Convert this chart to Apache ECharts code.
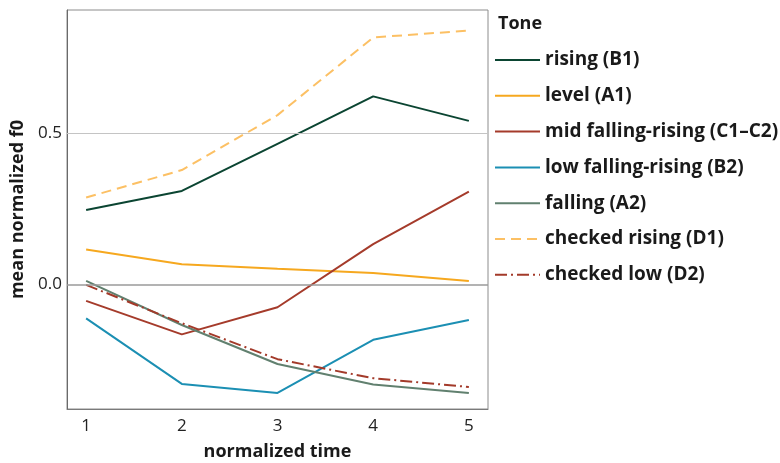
<!DOCTYPE html>
<html>
<head>
<meta charset="utf-8">
<script src="https://cdn.jsdelivr.net/npm/echarts@6/dist/echarts.min.js"></script>
<style>
  html, body { margin: 0; padding: 0; background: #fff; }
  #chart { width: 780px; height: 463px; }
</style>
</head>
<body>
<div id="chart"></div>
<script>
// normalized time points
const times = [1, 2, 3, 4, 5]
const xTicks = [1, 2, 3, 4, 5]
const yTicks = [0, 0.5]

// mean normalized f0 per tone
const risingB1 = [0.246, 0.309, 0.465, 0.622, 0.541]
const levelA1 = [0.115, 0.066, 0.051, 0.037, 0.011]
const midFallingRisingC1C2 = [-0.055, -0.166, -0.076, 0.133, 0.307]
const lowFallingRisingB2 = [-0.113, -0.33, -0.36, -0.184, -0.118]
const fallingA2 = [0.011, -0.135, -0.264, -0.332, -0.36]
const checkedRisingD1 = [0.287, 0.378, 0.56, 0.817, 0.84]
const checkedLowD2 = [-0.002, -0.129, -0.248, -0.311, -0.34]

const font = '"Open Sans", "Noto Sans", sans-serif'

const chart = echarts.init(document.getElementById('chart'), null, { renderer: 'canvas' })

const pairs = (vals) => times.map((t, i) => [t, vals[i]])

const makeSeries = (name, vals, color, type) => ({
  name,
  type: 'line',
  data: pairs(vals),
  symbol: 'none',
  smooth: false,
  lineStyle: { color, width: 2, type },
  itemStyle: { color },
  z: 3,
})

const series = [
  makeSeries('rising (B1)', risingB1, '#0b4532', 'solid'),
  makeSeries('level (A1)', levelA1, '#f6a81f', 'solid'),
  makeSeries('mid falling-rising (C1–C2)', midFallingRisingC1C2, '#a53b2b', 'solid'),
  makeSeries('low falling-rising (B2)', lowFallingRisingB2, '#1b8fb3', 'solid'),
  makeSeries('falling (A2)', fallingA2, '#61806f', 'solid'),
  makeSeries('checked rising (D1)', checkedRisingD1, '#fcc064', [10, 6]),
  makeSeries('checked low (D2)', checkedLowD2, '#a33a2a', [12, 4, 2, 4]),
]
const legendNames = series.map(s => s.name)

// reference lines at the y ticks, drawn under the data
series.push({
  type: 'line',
  data: [],
  silent: true,
  z: 1,
  markLine: {
    silent: true,
    symbol: 'none',
    label: { show: false },
    data: [
      { yAxis: yTicks[0], lineStyle: { color: '#9a9a9a', width: 1.5, type: 'solid' } },
      { yAxis: yTicks[1], lineStyle: { color: '#c4c4c4', width: 1, type: 'solid' } },
    ],
  },
})

chart.setOption({
  backgroundColor: '#fff',
  animation: false,
  title: {
    text: 'Tone',
    left: 493,
    top: 10,
    textStyle: { fontFamily: font, fontSize: 18, fontWeight: 'bold', color: '#1a1a1a' },
  },
  legend: {
    orient: 'vertical',
    left: 489,
    top: 45,
    itemWidth: 45,
    itemHeight: 20,
    itemGap: 15.8,
    itemStyle: { opacity: 0 },
    data: legendNames,
    textStyle: { fontFamily: font, fontSize: 19, lineHeight: 20, fontWeight: 'bold', color: '#1a1a1a' },
  },
  grid: {
    left: 67,
    right: 292,
    top: 10,
    bottom: 54,
    show: true,
    borderColor: '#8c8c8c',
    borderWidth: 1,
    containLabel: false,
    outerBoundsMode: 'none',
  },
  xAxis: {
    type: 'value',
    min: 0.8,
    max: 5.2,
    name: 'normalized time',
    nameLocation: 'middle',
    nameGap: 34,
    nameTextStyle: { fontFamily: font, fontSize: 18, fontWeight: 'bold', color: '#1a1a1a' },
    axisLine: { show: true, onZero: false, lineStyle: { color: '#7a7a7a' } },
    axisTick: { show: false, customValues: xTicks },
    splitLine: { show: false },
    axisLabel: {
      customValues: xTicks,
      margin: 9,
      fontFamily: font,
      fontSize: 17,
      color: '#222',
    },
  },
  yAxis: {
    type: 'value',
    min: -0.413,
    max: 0.908,
    name: 'mean normalized f0',
    nameLocation: 'middle',
    nameGap: 36,
    nameTextStyle: { fontFamily: font, fontSize: 18, fontWeight: 'bold', color: '#1a1a1a' },
    axisLine: { show: true, onZero: false, lineStyle: { color: '#6a6a6a' } },
    axisTick: { show: false, customValues: yTicks },
    splitLine: { show: false },
    axisLabel: {
      customValues: yTicks,
      margin: 5,
      fontFamily: font,
      fontSize: 17,
      color: '#222',
      formatter: v => v.toFixed(1),
    },
  },
  series,
})
</script>
</body>
</html>
